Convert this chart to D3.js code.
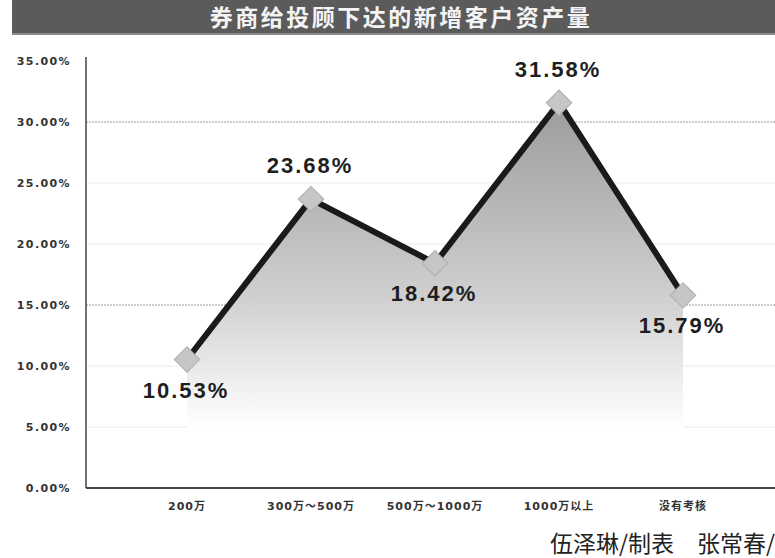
<!DOCTYPE html>
<html>
<head>
<meta charset="utf-8">
<script src="https://cdn.jsdelivr.net/npm/d3@7"></script>
<style>
  body { margin: 0; background: #fff; }
  svg { display: block; }
</style>
</head>
<body>
<svg id="chart" width="775" height="558"></svg>
<script>
// data
var categories = ["200万", "300万～500万", "500万～1000万", "1000万以上", "没有考核"];
var values = [10.53, 23.68, 18.42, 31.58, 15.79];
var labelBelow = [true, false, true, false, true];
var yTicks = [0, 5, 10, 15, 20, 25, 30, 35];
var title = "券商给投顾下达的新增客户资产量";
var credit = "伍泽琳/制表　张常春/";

var svg = d3.select("svg#chart"),
    W = 775, H = 558,
    margin = { top: 61, right: 0, bottom: 70, left: 86 },
    height = H - margin.top - margin.bottom;

var x = d3.scaleBand()
    .domain(categories)
    .range([125, 745]);

var y = d3.scaleLinear()
    .domain([0, 35])
    .range([H - margin.bottom, margin.top]);

var cx = function (i) { return x(categories[i]) + x.bandwidth() / 2; };

// title bar
svg.append("rect")
    .attr("x", 12).attr("y", 0)
    .attr("width", W - 12).attr("height", 34)
    .attr("fill", "#5b5b5b");
svg.append("rect")
    .attr("x", 12).attr("y", 33)
    .attr("width", W - 12).attr("height", 2)
    .attr("fill", "#8a8a8a");
svg.append("text")
    .attr("x", 401).attr("y", 26)
    .attr("text-anchor", "middle")
    .attr("fill", "#f4f4f4")
    .style("font", "bold 23px 'Noto Sans CJK SC', sans-serif")
    .style("letter-spacing", "2.5px")
    .text(title);

// gradient for area
var defs = svg.append("defs");
var grad = defs.append("linearGradient")
    .attr("id", "areaGrad")
    .attr("gradientUnits", "userSpaceOnUse")
    .attr("x1", 0).attr("x2", 0)
    .attr("y1", y(32)).attr("y2", y(5));
grad.append("stop").attr("offset", "0").attr("stop-color", "#9a9a9a");
grad.append("stop").attr("offset", "0.6").attr("stop-color", "#cfcfcf");
grad.append("stop").attr("offset", "1").attr("stop-color", "#ffffff");

// grid lines
svg.append("g")
    .selectAll("line")
    .data(yTicks.filter(function (d) { return d > 0 && d < 35; }))
    .enter().append("line")
    .attr("x1", margin.left).attr("x2", W)
    .attr("y1", function (d) { return y(d); })
    .attr("y2", function (d) { return y(d); })
    .attr("stroke", function (d) { return (d === 30 || d === 15) ? "#9a9a9a" : "#ececec"; })
    .attr("stroke-width", 1)
    .attr("stroke-dasharray", function (d) { return (d === 30 || d === 15) ? "2,1" : null; });

// area
var area = d3.area()
    .x(function (d, i) { return cx(i); })
    .y0(y(0))
    .y1(function (d) { return y(d); });

svg.append("path")
    .datum(values)
    .attr("d", area)
    .attr("fill", "url(#areaGrad)");

// axes
var yAxis = svg.append("g")
    .attr("transform", "translate(" + margin.left + ",0)")
    .call(d3.axisLeft(y).tickValues(yTicks).tickSize(0).tickPadding(15)
        .tickFormat(function (d) { return d.toFixed(2) + "%"; }));
yAxis.select(".domain").attr("stroke", "#444").attr("stroke-width", 1.5)
    .attr("d", "M0," + (y(35) - 4) + "V" + y(0));
yAxis.selectAll("text")
    .attr("fill", "#333")
    .style("font", "bold 11px 'DejaVu Sans', sans-serif")
    .style("letter-spacing", "1.4px");

var xAxis = svg.append("g")
    .attr("transform", "translate(0," + y(0) + ")")
    .call(d3.axisBottom(x).tickSize(0).tickPadding(14));
xAxis.select(".domain").attr("stroke", "#444").attr("stroke-width", 2)
    .attr("d", "M" + margin.left + ",0H" + W);
xAxis.selectAll("text")
    .attr("fill", "#333")
    .style("font", "bold 11px 'DejaVu Sans', 'Noto Sans CJK SC', sans-serif")
    .style("letter-spacing", "1px");

// line
var line = d3.line()
    .x(function (d, i) { return cx(i); })
    .y(function (d) { return y(d); });

svg.append("path")
    .datum(values)
    .attr("d", line)
    .attr("fill", "none")
    .attr("stroke", "#1a1a1a")
    .attr("stroke-width", 6)
    .attr("stroke-linejoin", "round");

// diamond markers
svg.append("g")
    .selectAll("rect")
    .data(values)
    .enter().append("rect")
    .attr("x", -9).attr("y", -9)
    .attr("width", 18).attr("height", 18)
    .attr("transform", function (d, i) { return "translate(" + cx(i) + "," + y(d) + ") rotate(45)"; })
    .attr("fill", "#c6c6c6")
    .attr("stroke", "#adadad")
    .attr("stroke-width", 1);

// value labels
svg.append("g")
    .selectAll("text")
    .data(values)
    .enter().append("text")
    .attr("x", function (d, i) { return cx(i) - 1; })
    .attr("y", function (d, i) { return y(d) + (labelBelow[i] ? 38 : -26); })
    .attr("text-anchor", "middle")
    .attr("fill", "#1e1e1e")
    .style("font", "bold 22px 'Liberation Sans', Arial, sans-serif")
    .style("letter-spacing", "2px")
    .text(function (d) { return d.toFixed(2) + "%"; });

// credit
svg.append("text")
    .attr("x", 550).attr("y", 552)
    .attr("fill", "#222")
    .style("font", "23px 'Noto Sans CJK SC', sans-serif")
    .text(credit);
</script>
</body>
</html>
